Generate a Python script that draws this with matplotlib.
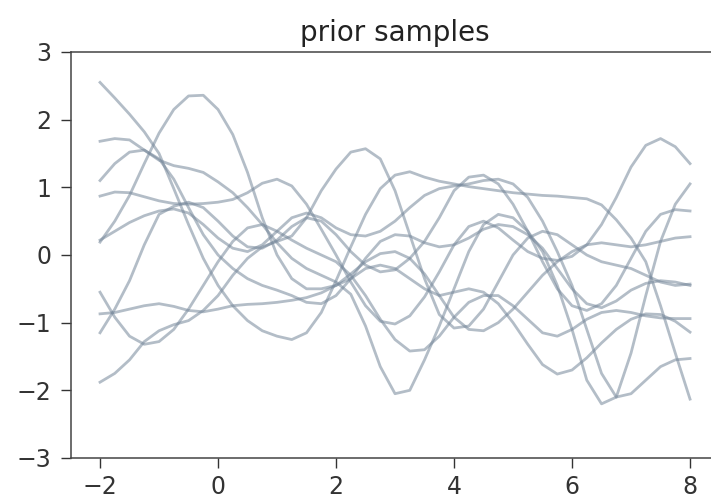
import numpy as np
import matplotlib
matplotlib.use("Agg")
import matplotlib.pyplot as plt

xs = np.arange(-2, 8.01, 0.25)

# prior samples, values
s_a = [2.55, 2.32, 2.08, 1.82, 1.5, 0.98, 0.45, -0.05, -0.45, -0.75, -0.97, -1.12, -1.2, -1.25,
       -1.15, -0.85, -0.38, 0.12, 0.6, 0.98, 1.18, 1.23, 1.15, 1.09, 1.05, 1.01, 0.98, 0.95, 0.92,
       0.9, 0.88, 0.87, 0.85, 0.83, 0.74, 0.52, 0.25, -0.1, -0.75, -1.45, -2.13]
s_b = [1.68, 1.72, 1.70, 1.55, 1.40, 1.32, 1.28, 1.22, 1.08, 0.92, 0.70, 0.45, 0.18, -0.05,
       -0.20, -0.30, -0.40, -0.58, -1.05, -1.65, -2.05, -2.0, -1.55, -1.05, -0.50, 0.05, 0.45,
       0.60, 0.55, 0.35, 0.05, -0.45, -1.10, -1.85, -2.2, -2.1, -1.45, -0.60, 0.20, 0.75, 1.05]
s_c = [-1.15, -0.8, -0.38, 0.15, 0.6, 0.72, 0.78, 0.7, 0.5, 0.28, 0.12, 0.1, 0.22, 0.42, 0.55,
       0.5, 0.3, 0.05, -0.15, -0.25, -0.22, -0.05, 0.2, 0.55, 0.95, 1.15, 1.18, 1.05, 0.75, 0.35,
       -0.1, -0.5, -0.75, -0.82, -0.72, -0.45, -0.05, 0.35, 0.6, 0.67, 0.65]
s_d = [0.87, 0.93, 0.92, 0.86, 0.8, 0.76, 0.75, 0.76, 0.78, 0.82, 0.92, 1.06, 1.12, 1.02, 0.75,
       0.38, 0.0, -0.4, -0.75, -0.98, -1.02, -0.9, -0.62, -0.25, 0.15, 0.42, 0.5, 0.4, 0.22, 0.05,
       -0.05, -0.08, -0.02, 0.15, 0.45, 0.85, 1.3, 1.62, 1.72, 1.6, 1.35]
s_e = [1.1, 1.35, 1.52, 1.55, 1.42, 1.12, 0.7, 0.3, 0.0, -0.2, -0.35, -0.45, -0.52, -0.6, -0.7,
       -0.72, -0.6, -0.35, -0.05, 0.2, 0.3, 0.28, 0.18, 0.12, 0.15, 0.25, 0.38, 0.45, 0.42, 0.3,
       0.1, -0.2, -0.5, -0.72, -0.78, -0.68, -0.52, -0.42, -0.38, -0.4, -0.45]
s_f = [0.22, 0.35, 0.48, 0.58, 0.65, 0.68, 0.62, 0.45, 0.25, 0.1, 0.05, 0.15, 0.35, 0.55, 0.62,
       0.55, 0.4, 0.3, 0.28, 0.35, 0.5, 0.7, 0.88, 0.98, 1.02, 1.05, 1.1, 1.12, 1.05, 0.85, 0.5,
       0.05, -0.45, -1.1, -1.75, -2.1, -2.05, -1.85, -1.65, -1.55, -1.53]
s_g = [-0.55, -0.92, -1.2, -1.32, -1.28, -1.1, -0.8, -0.45, -0.1, 0.2, 0.4, 0.45, 0.35, 0.22,
       0.1, 0.0, -0.1, -0.3, -0.6, -0.95, -1.25, -1.42, -1.4, -1.2, -0.92, -0.7, -0.6, -0.6, -0.75,
       -0.95, -1.15, -1.2, -1.1, -0.95, -0.85, -0.82, -0.85, -0.9, -0.93, -0.94, -0.94]
s_h = [0.19, 0.5, 0.88, 1.35, 1.8, 2.15, 2.35, 2.36, 2.15, 1.78, 1.22, 0.55, 0.0, -0.35, -0.5,
       -0.5, -0.45, -0.35, -0.2, -0.15, -0.2, -0.35, -0.5, -0.6, -0.55, -0.5, -0.55, -0.72, -1.0,
       -1.32, -1.62, -1.76, -1.7, -1.52, -1.3, -1.1, -0.95, -0.87, -0.88, -0.98, -1.14]
s_i = [-0.87, -0.85, -0.8, -0.75, -0.72, -0.76, -0.82, -0.84, -0.8, -0.75, -0.73, -0.72, -0.7,
       -0.67, -0.63, -0.56, -0.45, -0.28, -0.1, 0.02, 0.05, -0.05, -0.28, -0.6, -0.92, -1.1, -1.12,
       -1.0, -0.8, -0.55, -0.3, -0.1, 0.05, 0.15, 0.18, 0.15, 0.12, 0.15, 0.2, 0.25, 0.27]
s_j = [-1.88, -1.75, -1.55, -1.28, -1.12, -1.03, -0.97, -0.82, -0.6, -0.3, -0.05, 0.12, 0.2, 0.28,
       0.55, 0.95, 1.27, 1.52, 1.57, 1.42, 0.95, 0.3, -0.35, -0.88, -1.08, -1.05, -0.8, -0.4, 0.0,
       0.25, 0.35, 0.3, 0.15, 0.0, -0.1, -0.15, -0.2, -0.3, -0.4, -0.45, -0.43]

samples = [s_a, s_b, s_c, s_d, s_e, s_f, s_g, s_h, s_i, s_j]

fig = plt.figure(figsize=(7.11, 5.04), dpi=100)
ax = fig.add_axes([0.0992, 0.0913, 0.9128, 0.8056])

for s in samples:
    ax.plot(xs, s, color="#75879a", alpha=0.55, lw=2.0, solid_joinstyle="round")

ax.set_xlim(-2.5, 8.5)
ax.set_ylim(-3, 3)
ax.set_xticks([-2, 0, 2, 4, 6, 8])
ax.set_yticks([-3, -2, -1, 0, 1, 2, 3])
ax.tick_params(axis="both", labelsize=17, length=7, width=1.0, colors="#333333")
ax.tick_params(axis="x", pad=5)
ax.tick_params(axis="y", pad=7)
for sp in ax.spines.values():
    sp.set_linewidth(1.1)
    sp.set_color("#444444")
ax.spines["right"].set_visible(False)
ax.set_title("prior samples", fontsize=20, pad=8, color="#222222")

fig.savefig("out.png", dpi=100)
